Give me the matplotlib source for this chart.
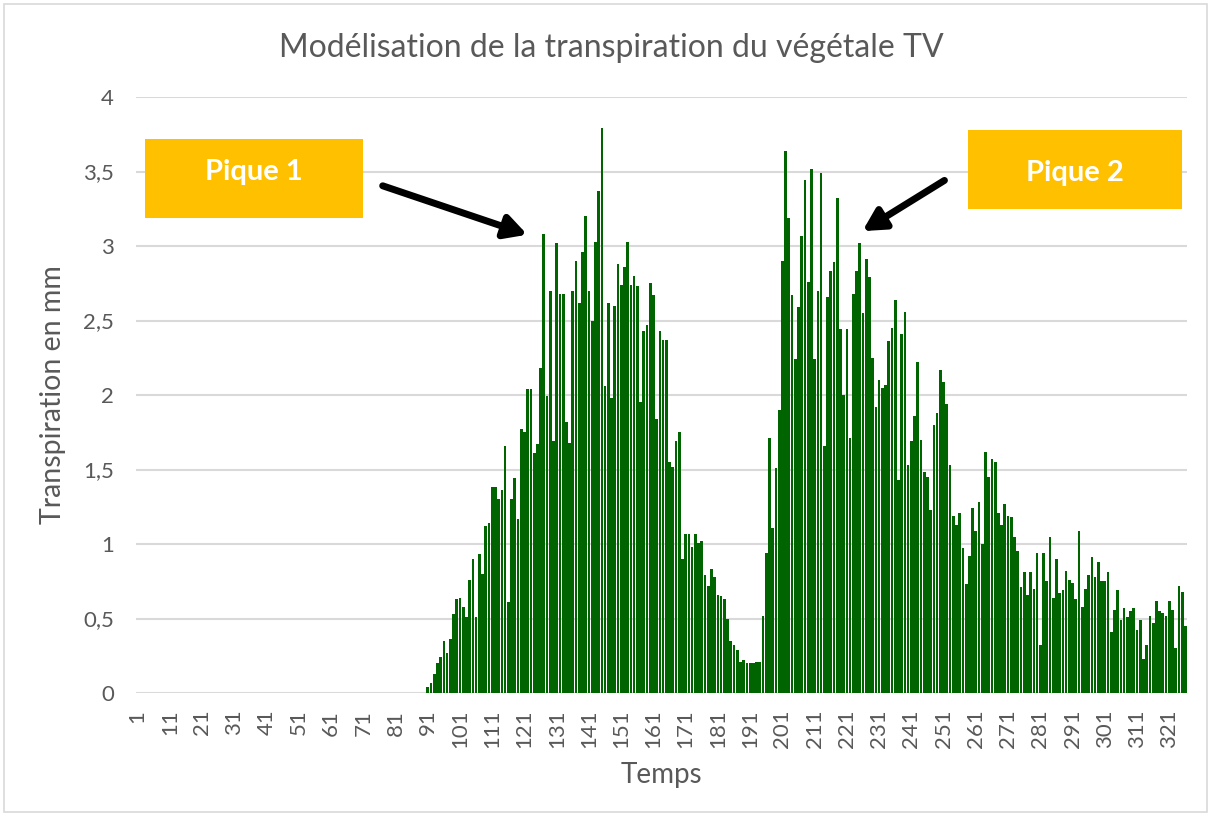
import numpy as np
import matplotlib
matplotlib.use("Agg")
import matplotlib.pyplot as plt
from matplotlib.patches import Rectangle

plt.rcParams['font.family'] = ['Lato', 'DejaVu Sans']

# jours 1 a 90 : pas de transpiration
jours_sans = [0.0] * 90

# jours 91 a 326
transp_91_326 = [
    0.04, 0.07, 0.13, 0.20, 0.24, 0.35, 0.27, 0.36, 0.53, 0.63,
    0.64, 0.58, 0.51, 0.76, 0.90, 0.51, 0.93, 0.80, 1.12, 1.14,
    1.38, 1.38, 1.30, 1.36, 1.66, 0.61, 1.30, 1.44, 1.17, 1.77,
    1.75, 2.04, 2.04, 1.61, 1.67, 2.18, 3.08, 1.99, 2.70, 1.69,
    3.02, 2.68, 2.68, 1.82, 1.68, 2.70, 2.90, 2.62, 2.96, 3.20,
    2.70, 2.50, 3.03, 3.37, 3.79, 2.06, 2.62, 1.98, 2.60, 2.88,
    2.74, 2.86, 3.03, 2.74, 2.80, 2.73, 1.95, 2.43, 2.47, 2.75,
    2.67, 1.84, 2.43, 2.37, 2.37, 1.55, 1.52, 1.69, 1.75, 0.90,
    1.07, 1.07, 0.98, 1.07, 1.01, 1.02, 0.79, 0.72, 0.83, 0.78,
    0.66, 0.65, 0.63, 0.50, 0.35, 0.32, 0.29, 0.21, 0.22, 0.20,
    0.20, 0.20, 0.21, 0.21, 0.52, 0.94, 1.71, 1.11, 1.51, 1.90,
    2.90, 3.64, 3.19, 2.67, 2.24, 2.59, 3.07, 3.44, 2.76, 3.52,
    2.24, 2.70, 3.49, 1.66, 2.66, 2.83, 2.89, 3.32, 2.44, 2.00,
    2.44, 1.71, 2.68, 2.83, 3.02, 2.55, 2.91, 2.79, 2.25, 1.92,
    2.10, 2.05, 2.07, 2.36, 2.45, 2.64, 1.43, 2.41, 2.56, 1.53,
    1.69, 1.86, 2.22, 1.70, 1.48, 1.45, 1.23, 1.80, 1.88, 2.17,
    2.09, 1.94, 1.53, 1.19, 1.13, 1.21, 0.97, 0.73, 0.92, 1.24,
    1.09, 1.28, 1.00, 1.62, 1.45, 1.57, 1.55, 1.21, 1.13, 1.27,
    1.19, 1.18, 1.05, 0.95, 0.71, 0.81, 0.66, 0.81, 0.70, 0.94,
    0.32, 0.94, 0.75, 1.05, 0.64, 0.90, 0.67, 0.69, 0.82, 0.76,
    0.74, 0.63, 1.09, 0.58, 0.70, 0.79, 0.91, 0.78, 0.88, 0.75,
    0.75, 0.81, 0.41, 0.56, 0.69, 0.49, 0.57, 0.51, 0.55, 0.57,
    0.42, 0.49, 0.23, 0.32, 0.52, 0.47, 0.62, 0.55, 0.54, 0.52,
    0.62, 0.56, 0.30, 0.72, 0.68, 0.45,
]

transpiration = jours_sans + transp_91_326
jours = list(range(1, len(transpiration) + 1))

yticks = [0, 0.5, 1, 1.5, 2, 2.5, 3, 3.5, 4]
ylabels = ['0', '0,5', '1', '1,5', '2', '2,5', '3', '3,5', '4']

gris = '#595959'
W, H = 1213, 816

fig = plt.figure(figsize=(W / 100, H / 100), dpi=100)
ax = fig.add_axes([136 / W, 1 - 693 / H, 1051 / W, 596 / H])

x = np.arange(len(jours))
ax.bar(x, transpiration, width=0.84, color='#006400', edgecolor='none', zorder=2)

ax.set_xlim(-0.5, len(jours) - 0.5)
ax.set_ylim(0, 4)
ax.set_yticks(yticks)
ax.set_yticklabels(ylabels)
ax.set_xticks(x[::10])
ax.set_xticklabels([str(j) for j in jours[::10]], rotation=90)
ax.tick_params(axis='x', length=0, pad=12, labelsize=16, labelcolor=gris)
ax.tick_params(axis='y', length=0, pad=16, labelsize=16, labelcolor=gris)

ax.grid(axis='y', color='#d9d9d9', linewidth=1.5, zorder=0)
ax.set_axisbelow(True)
for s in ax.spines.values():
    s.set_visible(False)

ax.set_xlabel('Temps', fontsize=20, color=gris, labelpad=10)
ax.set_ylabel('Transpiration en mm', fontsize=20.5, color=gris, labelpad=12)
fig.text(611 / W, 1 - 48 / H, 'Modélisation de la transpiration du végétale TV',
         ha='center', va='center', fontsize=23, color=gris)

# cadre du graphique
fig.add_artist(Rectangle((4 / W, 4 / H), 1203 / W, 808 / H, transform=fig.transFigure,
                         fill=False, edgecolor='#d9d9d9', linewidth=1.2))

# etiquettes des piques
for (x0, y0, w, h, ty), txt in [((145, 139, 218, 79, 172), 'Pique 1'),
                                 ((968, 130, 214, 79, 173), 'Pique 2')]:
    fig.add_artist(Rectangle((x0 / W, 1 - (y0 + h) / H), w / W, h / H,
                             transform=fig.transFigure, facecolor='#FFC000', edgecolor='none'))
    fig.text((x0 + w / 2) / W, 1 - ty / H, txt, ha='center', va='center',
             fontsize=21, fontweight='bold', color='white')

fleche = dict(arrowstyle='-|>,head_length=1.3,head_width=0.7', color='black', lw=5)
ax.annotate('', xy=(121.7, 3.07), xytext=(75.2, 3.41), arrowprops=fleche, annotation_clip=False)
ax.annotate('', xy=(224.1, 3.09), xytext=(251.0, 3.45), arrowprops=fleche, annotation_clip=False)

fig.savefig('out.png', dpi=100)
